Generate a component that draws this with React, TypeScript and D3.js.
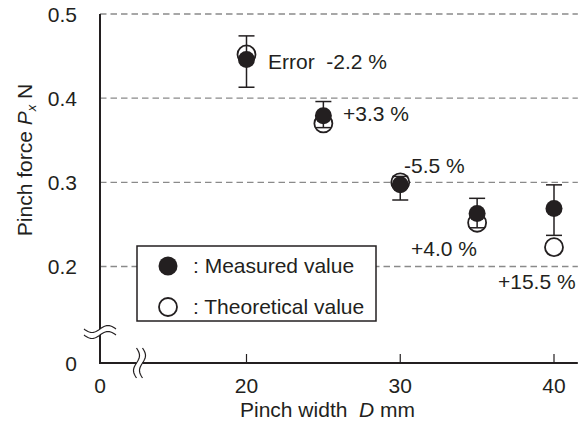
import React from "react";
import * as d3 from "d3";

const widths = [20, 25, 30, 35, 40];
const measured = [0.446, 0.379, 0.297, 0.263, 0.269];
const theoretical = [0.452, 0.37, 0.3, 0.252, 0.223];
const errLow = [0.413, 0.365, 0.279, 0.246, 0.237];
const errHigh = [0.474, 0.396, 0.307, 0.281, 0.297];
const errorLabels = ["Error  -2.2 %", "+3.3 %", "-5.5 %", "+4.0 %", "+15.5 %"];
const yTicks = [0, 0.2, 0.3, 0.4, 0.5];
const gridValues = [0.2, 0.3, 0.4, 0.5];
const xTicks = [0, 20, 30, 40];

const W = 585;
const H = 426;
const INK = "#231f20";
const FONT = "'Liberation Sans', Arial, Helvetica, sans-serif";

export default function App() {
  const x = d3.scaleLinear().domain([0, 20, 40]).range([100, 246.5, 554]);
  const y = d3.scaleLinear().domain([0, 0.2, 0.5]).range([363, 266.5, 14]);
  const xEnd = x(41.55);
  const fs = 21;

  const labelPos = [
    { dx: 268 - x(20), y: 69 },
    { dx: 343 - x(25), y: 121 },
    { dx: 404 - x(30), y: 173 },
    { dx: 411 - x(35), y: 256 },
    { dx: 498 - x(40), y: 289 },
  ];

  const legend = { x: 137, y: 246, w: 239, h: 75 };
  const yBreak = 332;
  const xBreak = 139.5;

  const wavePts = (cx: number, cy: number, half: number, amp: number, vertical: boolean) => {
    const pts: [number, number][] = [];
    for (let i = 0; i <= 24; i++) {
      const t = -half + (2 * half * i) / 24;
      const o = amp * Math.sin((Math.PI * t) / half);
      pts.push(vertical ? [cx - o, cy + t] : [cx + t, cy - o]);
    }
    return pts;
  };
  const line = d3.line();
  const yTop = wavePts(100, yBreak - 3, 16, 3.5, false);
  const yBot = wavePts(100, yBreak + 3, 16, 3.5, false);
  const yBand = line([...yTop, ...yBot.slice().reverse()]) + "Z";

  return (
    <svg width={W} height={H} style={{ position: "absolute", left: 0, top: 0, background: "#fff" }} fontFamily={FONT}>
      <rect width={W} height={H} fill="#fff" />
      {gridValues.map((v) => (
        <line key={v} x1={x(0)} x2={xEnd} y1={y(v)} y2={y(v)} stroke="#8a8a8a" strokeWidth={1.3} strokeDasharray="6.5,4" />
      ))}
      <line x1={x(0)} x2={x(0)} y1={y(0.5)} y2={y(0) + 1} stroke={INK} strokeWidth={2} />
      <line x1={x(0) - 1} x2={xEnd} y1={y(0)} y2={y(0)} stroke={INK} strokeWidth={2} />
      {[20, 30, 40].map((t) => (
        <line key={t} x1={x(t)} x2={x(t)} y1={y(0)} y2={y(0) - 9} stroke={INK} strokeWidth={1.2} />
      ))}
      <path d={yBand} fill="#fff" stroke="none" />
      <path d={line(yTop) as string} fill="none" stroke={INK} strokeWidth={1.2} />
      <path d={line(yBot) as string} fill="none" stroke={INK} strokeWidth={1.2} />
      <rect x={xBreak - 3} y={y(0) - 6} width={6} height={12} fill="#fff" />
      <path d={line(wavePts(xBreak - 3, y(0), 15, 3, true)) as string} fill="none" stroke={INK} strokeWidth={1.2} />
      <path d={line(wavePts(xBreak + 3, y(0), 15, 3, true)) as string} fill="none" stroke={INK} strokeWidth={1.2} />
      {yTicks.map((t) => (
        <text key={t} x={77} y={y(t)} dy="0.36em" textAnchor="end" fontSize={fs} fill={INK}>
          {t === 0 ? "0" : t.toFixed(1)}
        </text>
      ))}
      {xTicks.map((t) => (
        <text key={t} x={x(t)} y={393} textAnchor="middle" fontSize={fs} fill={INK}>
          {t}
        </text>
      ))}
      <text x={240} y={417} fontSize={fs} fill={INK}>
        Pinch width{"\u00a0\u00a0"}
        <tspan fontStyle="italic">D</tspan>
        {" mm"}
      </text>
      <text transform={`translate(32,160) rotate(-90)`} textAnchor="middle" fontSize={fs} fill={INK}>
        Pinch force{" "}
        <tspan fontStyle="italic">P</tspan>
        <tspan fontStyle="italic" fontSize={13} dy={4}>x</tspan>
        <tspan dy={-4}>{" N"}</tspan>
      </text>
      <rect x={legend.x} y={legend.y} width={legend.w} height={legend.h} fill="#fff" stroke={INK} strokeWidth={1.5} />
      <circle cx={168} cy={266} r={9.5} fill={INK} />
      <circle cx={168} cy={307} r={9} fill="#fff" stroke={INK} strokeWidth={1.8} />
      <text x={193} y={273} fontSize={fs} fill={INK}>: Measured value</text>
      <text x={193} y={314} fontSize={fs} fill={INK}>: Theoretical value</text>
      {widths.map((w, i) => (
        <circle key={"t" + w} cx={x(w)} cy={y(theoretical[i])} r={9} fill="#fff" stroke={INK} strokeWidth={1.8} />
      ))}
      {widths.map((w, i) => (
        <g key={"e" + w} stroke={INK} strokeWidth={1.5}>
          <line x1={x(w)} x2={x(w)} y1={y(errLow[i])} y2={y(errHigh[i])} />
          <line x1={x(w) - 8} x2={x(w) + 8} y1={y(errLow[i])} y2={y(errLow[i])} />
          <line x1={x(w) - 8} x2={x(w) + 8} y1={y(errHigh[i])} y2={y(errHigh[i])} />
        </g>
      ))}
      {widths.map((w, i) => (
        <circle key={"m" + w} cx={x(w)} cy={y(measured[i])} r={8.5} fill={INK} />
      ))}
      {widths.map((w, i) => (
        <text key={"l" + w} x={x(w) + labelPos[i].dx} y={labelPos[i].y} fontSize={fs} fill={INK} style={{ whiteSpace: "pre" }}>
          {errorLabels[i]}
        </text>
      ))}
    </svg>
  );
}
